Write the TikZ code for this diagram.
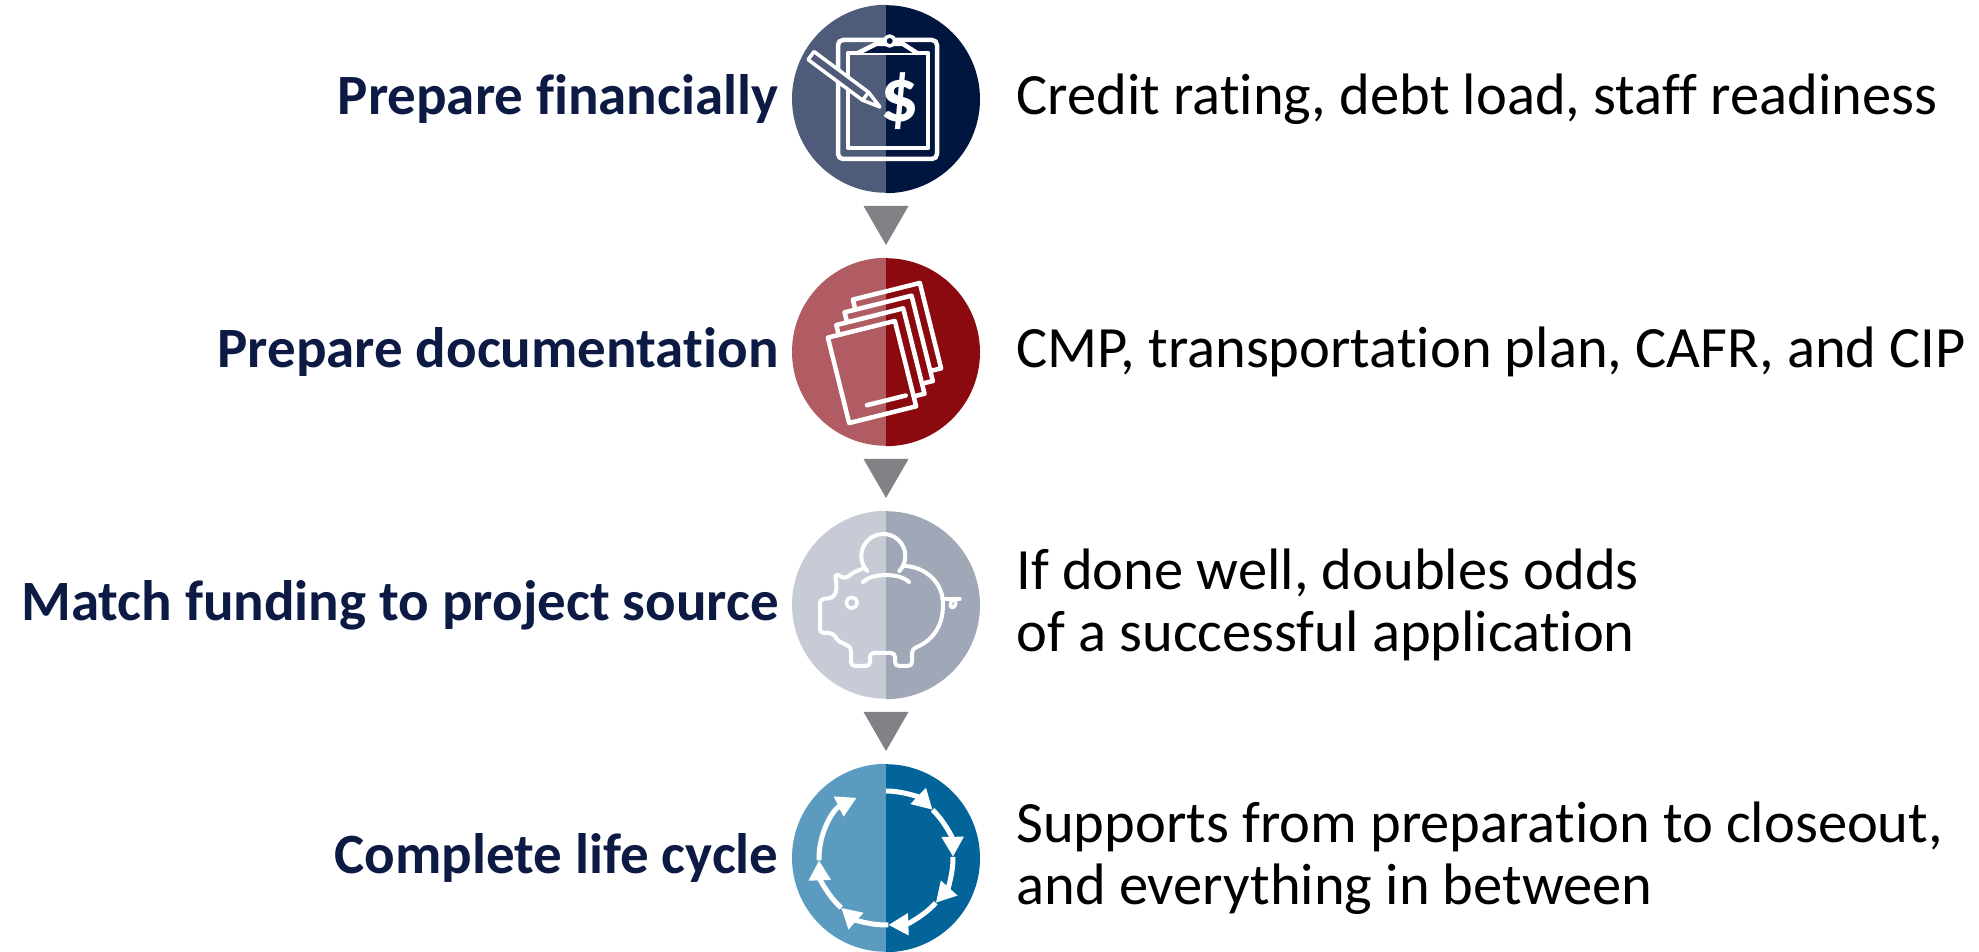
\documentclass[tikz,border=0pt]{standalone}
\usepackage{fontspec}
\setmainfont[Ligatures=NoCommon]{Carlito}
\usetikzlibrary{arrows.meta,calc}
\definecolor{navy}{HTML}{0C1A44}
\definecolor{aL}{HTML}{4E5B79}\definecolor{aR}{HTML}{00163F}
\definecolor{bL}{HTML}{B05C62}\definecolor{bR}{HTML}{8B0A10}
\definecolor{cL}{HTML}{C6CBD5}\definecolor{cR}{HTML}{A0A7B6}
\definecolor{dL}{HTML}{5B9BC0}\definecolor{dR}{HTML}{03649A}
\definecolor{trigray}{HTML}{808285}
\newcommand\splitdisc[3]{%
  \fill[#2] (#1.north) arc[start angle=90,end angle=270,radius=94pt] -- cycle;
  \fill[#3] (#1.south) arc[start angle=-90,end angle=90,radius=94pt] -- cycle;}
\newcommand\downtri[1]{%
  \fill[trigray] ($(#1)+(-22.5,19.5)$) -- ($(#1)+(22.5,19.5)$) -- ($(#1)+(0,-19.5)$) -- cycle;}
\newcommand\docsheet[2]{%
  \begin{scope}\clip (-100,-100) rectangle (0,100);
    \fill[bL, shift={(#1,#2)}, rotate=14] (-34.5,-44) rectangle (34.5,44);
  \end{scope}
  \begin{scope}\clip (0,-100) rectangle (100,100);
    \fill[bR, shift={(#1,#2)}, rotate=14] (-34.5,-44) rectangle (34.5,44);
  \end{scope}
  \draw[icon, shift={(#1,#2)}, rotate=14] (-34.5,-44) rectangle (34.5,44);}
\begin{document}
\begin{tikzpicture}[x=1pt,y=1pt,
  disc/.style={circle, minimum size=188pt, inner sep=0pt},
  lefttext/.style={anchor=east, inner sep=0pt, font=\fontsize{57}{62}\selectfont\bfseries, text=navy, align=right},
  righttext/.style={anchor=west, inner sep=0pt, font=\fontsize{58.5}{62}\selectfont, text=black, align=left},
  icon/.style={draw=white, line width=4.5pt, line join=round, line cap=round},
  ring/.style={draw=white, line width=5pt}]
\useasboundingbox (0,0) rectangle (1979,952);

\node[disc] (c1) at (886,853) {};
\node[disc] (c2) at (886,600) {};
\node[disc] (c3) at (886,347) {};
\node[disc] (c4) at (886,94) {};
\splitdisc{c1}{aL}{aR}
\splitdisc{c2}{bL}{bR}
\splitdisc{c3}{cL}{cR}
\splitdisc{c4}{dL}{dR}

\coordinate (t1) at ($(c1.south)!0.5!(c2.north)$);
\coordinate (t2) at ($(c2.south)!0.5!(c3.north)$);
\coordinate (t3) at ($(c3.south)!0.5!(c4.north)$);
\downtri{t1}\downtri{t2}\downtri{t3}

% labels
\node[lefttext] (l1) at ($(c1.west)+(-13,0)$) {Prepare financially};
\node[lefttext] (l2) at ($(c2.west)+(-13,0)$) {Prepare documentation};
\node[lefttext] (l3) at ($(c3.west)+(-13,0)$) {Match funding to project source};
\node[lefttext] (l4) at ($(c4.west)+(-13,0)$) {Complete life cycle};
\node[righttext] (r1) at ($(c1.east)+(36,0)$) {Credit rating, debt load, staff readiness};
\node[righttext] (r2) at ($(c2.east)+(36,0)$) {CMP, transportation plan, CAFR, and CIP};
\node[righttext] (r3) at ($(c3.east)+(36,0)$) {If done well, doubles odds\\of a successful application};
\node[righttext] (r4) at ($(c4.east)+(36,0)$) {Supports from preparation to closeout,\\and everything in between};

% icon 1: clipboard
\begin{scope}[shift={(c1.center)}]
  \draw[icon, rounded corners=5pt] (-48,-60) rectangle (51,59);
  \draw[icon] (-38,-49) rectangle (42,46);
  \draw[icon, fill=aR] (-28,46) -- (-10,55) -- (17,55) -- (31,46);
  \draw[icon, fill=aR, line width=3.5pt] (3.7,58) circle (5);
  \node[text=white, inner sep=0pt, font=\fontsize{76}{76}\selectfont\bfseries] (dol) at (14,-2) {\$};
  \begin{scope}[shift={(-6,-8)}, rotate=143.3]
    \draw[icon, line width=3.5pt, fill=aL] (0,0) -- (18,5) -- (86,5) -- (86,-5) -- (18,-5) -- cycle;
    \draw[icon, line width=3.5pt] (18,5) -- (18,-5);
  \end{scope}
\end{scope}

% icon 2: documents
\begin{scope}[shift={(c2.center)}]
  \docsheet{11}{18}
  \docsheet{2.7}{5.3}
  \docsheet{-5.6}{-7.4}
  \docsheet{-14}{-20}
  \draw[icon, shift={(-14,-20)}, rotate=14] (-13,-31) -- (27,-31);
\end{scope}

% icon 3: piggy bank
\begin{scope}[shift={(c3.center)}]
  \draw[icon, line width=4pt, rounded corners=4pt]
    (-24,36) .. controls (-32,33) .. (-41,26)
    -- (-51,32) -- (-49,16)
    .. controls (-51,11) .. (-53,7)
    -- (-66,6) -- (-66,-28) -- (-53,-28)
    .. controls (-48,-36) .. (-35,-42)
    -- (-35,-61) -- (-16,-61) -- (-16,-48) -- (9,-48) -- (9,-61) -- (26,-61) -- (26,-44)
    .. controls (46,-36) and (56,-22) .. (57,0)
    .. controls (56,22) and (40,38) .. (19,39);
  \draw[icon, line width=4pt] (13.4,34) arc[start angle=-43, end angle=223, radius=22];
  \draw[icon, line width=4pt] (-23,23) .. controls (-18,28) and (-8,30) .. (0,30) .. controls (8,30) and (18,28) .. (23,23);
  \draw[icon, line width=3.5pt] (-34.3,2.3) circle (5.5);
  \draw[icon, line width=3.5pt] (56,6) -- (74,6);
  \draw[icon, line width=3.5pt] (67,6) .. controls (62,0) and (65,-4) .. (68,-2) .. controls (70,0) .. (69,6);
\end{scope}

% icon 4: cycle
\begin{scope}[shift={(c4.center)}, >={Triangle[length=20pt,width=21pt]}]
  \draw[ring, ->] (90:67) arc[start angle=90, end angle=46, radius=67];
  \draw[ring, ->] (46:67) arc[start angle=46, end angle=1, radius=67];
  \draw[ring, ->] (1:67) arc[start angle=1, end angle=-42, radius=67];
  \draw[ring, ->] (-42:67) arc[start angle=-42, end angle=-88, radius=67];
  \draw[ring, ->] (-88:67) arc[start angle=-88, end angle=-132, radius=67];
  \draw[ring, ->] (-132:67) arc[start angle=-132, end angle=-178, radius=67];
  \draw[ring, ->] (-178:67) arc[start angle=-178, end angle=-244, radius=67];
\end{scope}
\end{tikzpicture}
\end{document}
